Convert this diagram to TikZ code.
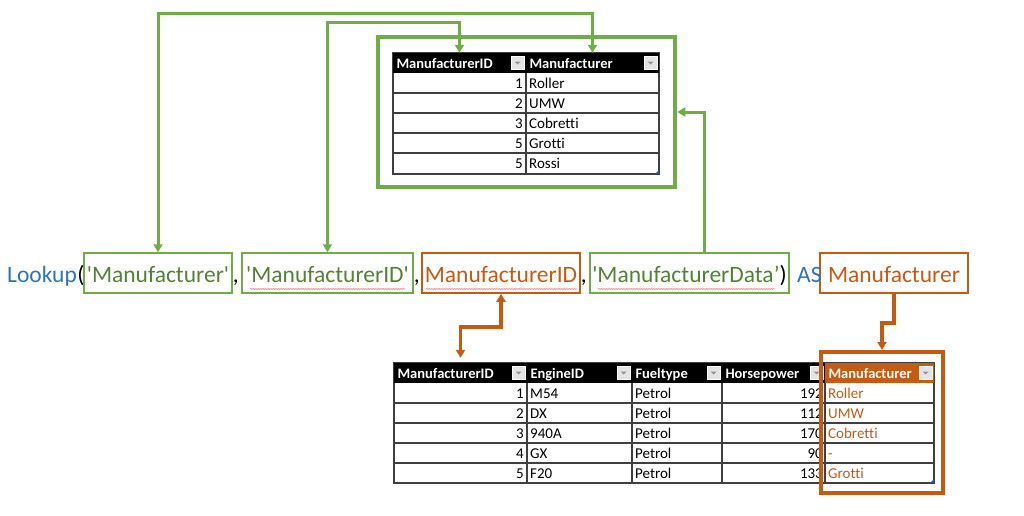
\documentclass[tikz,border=0pt]{standalone}
\usepackage{fontspec}
\newfontfamily\calfont{Carlito}[Ligatures=CommonOff]
\usepackage{xcolor}
\usepackage{tikz}
\usetikzlibrary{arrows.meta,positioning,decorations.pathmorphing}

\definecolor{lgreen}{HTML}{70AD47}
\definecolor{dgreen}{HTML}{548235}
\definecolor{rorange}{HTML}{C55A11}
\definecolor{fblue}{HTML}{2E75B6}
\definecolor{gridgray}{HTML}{3F3F3F}
\definecolor{btngray}{HTML}{E4E4E4}
\definecolor{cornerblue}{HTML}{2F4FA8}

\tikzset{
  >={Triangle[length=8pt,width=9pt]},
  ftxt/.style={font=\calfont\fontsize{23.5}{28}\selectfont, inner sep=0pt, anchor=base west},
  fbox/.style={draw=#1, line width=1.5pt, minimum height=40pt, inner sep=0pt,
    text height=22pt, text depth=4pt, font=\calfont\fontsize{23.5}{28}\selectfont},
  hdrcell/.style={fill=black, text=white, font=\calfont\bfseries\fontsize{14.5}{16}\selectfont,
    minimum height=20pt, inner xsep=3.5pt, inner ysep=0pt, text height=12.5pt, text depth=2pt, align=left},
  celltxt/.style={font=\calfont\fontsize{15}{18}\selectfont, inner sep=0pt},
  gridline/.style={draw=gridgray, line width=1.1pt},
  glink/.style={draw=lgreen, line width=3pt},
  olink/.style={draw=rorange, line width=3.3pt},
  spell/.style={draw=red!50, line width=0.6pt, decorate,
    decoration={snake, amplitude=0.6pt, segment length=2.5pt}}
}

\newcommand{\dropbtn}[1]{%
  \filldraw[fill=btngray, draw=white, line width=0.6pt] ([xshift=-15pt,yshift=-6.5pt]#1.east) rectangle ([xshift=-2pt,yshift=6.5pt]#1.east);
  \fill[gray!85] ([xshift=-11.5pt,yshift=1.5pt]#1.east) -- ++(6pt,0) -- ++(-3pt,-3pt) -- cycle;}

\begin{document}
\begin{tikzpicture}[x=1pt,y=-1pt]
\useasboundingbox (0,0) rectangle (1024,515);

% lookup table
  \draw[gridline] (393,53) rectangle (659,174);
  \draw[gridline] (393,93) -- (659,93) (393,113) -- (659,113) (393,133) -- (659,133) (393,153) -- (659,153);
  \draw[gridline] (526,73) -- (526,174);
  \node[hdrcell, text width=126pt] (topIDh) at (459.5,63) {ManufacturerID};
  \node[hdrcell, text width=126pt] (topManh) at (592.5,63) {Manufacturer};
    \dropbtn{topIDh}
    \dropbtn{topManh}
  \node[celltxt, anchor=base east] (tId1) at (523,88.5) {1};
  \node[celltxt, anchor=base east] (tId2) at (523,108.5) {2};
  \node[celltxt, anchor=base east] (tId3) at (523,128.5) {3};
  \node[celltxt, anchor=base east] (tId4) at (523,148.5) {5};
  \node[celltxt, anchor=base east] (tId5) at (523,168.5) {5};
  \node[celltxt, anchor=base west] (tMan1) at (529,88.5) {Roller};
  \node[celltxt, anchor=base west] (tMan2) at (529,108.5) {UMW};
  \node[celltxt, anchor=base west] (tMan3) at (529,128.5) {Cobretti};
  \node[celltxt, anchor=base west] (tMan4) at (529,148.5) {Grotti};
  \node[celltxt, anchor=base west] (tMan5) at (529,168.5) {Rossi};
    \fill[cornerblue] (659,174) -- ++(-4,0) -- ++(4,-4) -- cycle;

% engine table
  \draw[gridline] (394,363) rectangle (934,483);
  \draw[gridline] (394,403) -- (934,403) (394,423) -- (934,423) (394,443) -- (934,443) (394,463) -- (934,463);
  \draw[gridline] (527,383) -- (527,483) (632,383) -- (632,483) (722,383) -- (722,483) (825,383) -- (825,483);
  \node[hdrcell, text width=126pt] (botIDh) at (460.5,373) {ManufacturerID};
  \node[hdrcell, text width=98pt] (botEngh) at (579.5,373) {EngineID};
  \node[hdrcell, text width=83pt] (botFuelh) at (677,373) {Fueltype};
  \node[hdrcell, text width=96pt] (botHPh) at (773.5,373) {Horsepower};
  \node[hdrcell, text width=102pt, fill=rorange] (botManh) at (879.5,373) {Manufacturer};
    \dropbtn{botIDh}
    \dropbtn{botEngh}
    \dropbtn{botFuelh}
    \dropbtn{botHPh}
    \dropbtn{botManh}
  \node[celltxt, anchor=base east] (bId1) at (524,398.5) {1};
  \node[celltxt, anchor=base east] (bId2) at (524,418.5) {2};
  \node[celltxt, anchor=base east] (bId3) at (524,438.5) {3};
  \node[celltxt, anchor=base east] (bId4) at (524,458.5) {4};
  \node[celltxt, anchor=base east] (bId5) at (524,478.5) {5};
  \node[celltxt, anchor=base west] (bEng1) at (530,398.5) {M54};
  \node[celltxt, anchor=base west] (bEng2) at (530,418.5) {DX};
  \node[celltxt, anchor=base west] (bEng3) at (530,438.5) {940A};
  \node[celltxt, anchor=base west] (bEng4) at (530,458.5) {GX};
  \node[celltxt, anchor=base west] (bEng5) at (530,478.5) {F20};
  \node[celltxt, anchor=base west] (bFuel1) at (635,398.5) {Petrol};
  \node[celltxt, anchor=base west] (bFuel2) at (635,418.5) {Petrol};
  \node[celltxt, anchor=base west] (bFuel3) at (635,438.5) {Petrol};
  \node[celltxt, anchor=base west] (bFuel4) at (635,458.5) {Petrol};
  \node[celltxt, anchor=base west] (bFuel5) at (635,478.5) {Petrol};
  \node[celltxt, anchor=base east] (bHP1) at (823,398.5) {192};
  \node[celltxt, anchor=base east] (bHP2) at (823,418.5) {112};
  \node[celltxt, anchor=base east] (bHP3) at (823,438.5) {170};
  \node[celltxt, anchor=base east] (bHP4) at (823,458.5) {90};
  \node[celltxt, anchor=base east] (bHP5) at (823,478.5) {133};
  \node[celltxt, anchor=base west, text=rorange] (bMan1) at (828,398.5) {Roller};
  \node[celltxt, anchor=base west, text=rorange] (bMan2) at (828,418.5) {UMW};
  \node[celltxt, anchor=base west, text=rorange] (bMan3) at (828,438.5) {Cobretti};
  \node[celltxt, anchor=base west, text=rorange] (bMan4) at (828,458.5) {-};
  \node[celltxt, anchor=base west, text=rorange] (bMan5) at (828,478.5) {Grotti};
    \fill[cornerblue] (934,483) -- ++(-4,0) -- ++(4,-4) -- cycle;

% frames
  \node[draw=lgreen, line width=4.5pt, minimum width=297pt, minimum height=150pt, inner sep=0pt] (lookupFrame) at (526.5,112) {};
  \node[draw=rorange, line width=4pt, minimum width=122pt, minimum height=141pt, inner sep=0pt] (outFrame) at (882,422.5) {};

% formula
  \node[ftxt, text=fblue] (look) at (7,282) {Lookup};
  \node[ftxt] (lpar) at (look.base east) {(};
  \node[fbox=lgreen, text=dgreen, minimum width=148pt] (fName) at (158,273) {'Manufacturer'};
  \node[fbox=lgreen, text=dgreen, minimum width=171pt] (fKey) at (327.5,273) {'ManufacturerID'};
  \node[fbox=rorange, text=rorange, minimum width=158pt] (fValue) at (501,273) {ManufacturerID};
  \node[fbox=lgreen, text=dgreen, minimum width=199pt] (fTable) at (689.5,273) {'ManufacturerData’{\color{black})}};
  \node[fbox=rorange, text=rorange, minimum width=148pt] (fResult) at (894,273) {Manufacturer};
  \node[ftxt] (comma1) at (fName.east |- look.base) {,};
  \node[ftxt] (comma2) at (fKey.east |- look.base) {,};
  \node[ftxt] (comma3) at (fValue.east |- look.base) {,};
  \node[ftxt, text=fblue] (asword) at (797,282) {AS};
    \draw[spell] (250,289) -- (405,289);
    \draw[spell] (426,289) -- (577,289);
    \draw[spell] (598,289) -- (775,289);

% connectors
  \coordinate (nameBend) at (0,13);
  \coordinate (keyBend) at (0,22);
  \coordinate (valueBend) at (0,327);
  \coordinate (resultBend) at (0,323);
  \draw[glink, <->] (fName.north) -- (fName.north |- nameBend) -| (topManh.north);
  \draw[glink, <->] (fKey.north) -- (fKey.north |- keyBend) -| (topIDh.north);
  \draw[glink, ->] ([xshift=15pt]fTable.north) |- (lookupFrame.east);
  \draw[olink, <->, shorten >=5pt] (fValue.south) -- (fValue.south |- valueBend) -| (botIDh.north);
  \draw[olink, ->] (fResult.south) -- (fResult.south |- resultBend) -| (outFrame.north);

\end{tikzpicture}
\end{document}
